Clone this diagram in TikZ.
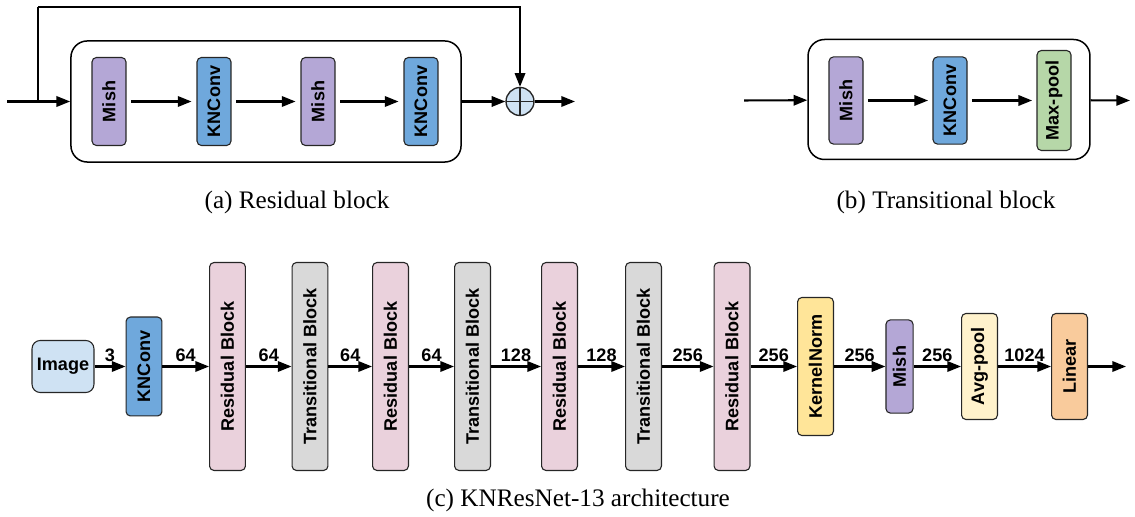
\documentclass[tikz,border=0pt]{standalone}
\usepackage{fontspec}
\setmainfont{Liberation Serif}
\setsansfont{Liberation Sans}
\usepackage{xcolor}
\usetikzlibrary{arrows.meta,positioning}

\definecolor{mishcol}{HTML}{B4A7D6}
\definecolor{convcol}{HTML}{6FA8DC}
\definecolor{poolcol}{HTML}{B6D7A8}
\definecolor{imgcol}{HTML}{CFE2F3}
\definecolor{rescol}{HTML}{EAD1DC}
\definecolor{transcol}{HTML}{D9D9D9}
\definecolor{normcol}{HTML}{FFE599}
\definecolor{avgcol}{HTML}{FFF2CC}
\definecolor{lincol}{HTML}{F9CB9C}

\begin{document}
\begin{tikzpicture}[x=0.365pt, y=-0.365pt,
  blk/.style={draw=black!85, line width=0.4pt, rounded corners=1.6pt, rotate=90, inner sep=0pt,
    font=\sffamily\bfseries\fontsize{6.6}{7}\selectfont, minimum height=13.1pt},
  frame/.style={draw, line width=0.55pt, rounded corners=6pt},
  flow/.style={-{Triangle[length=5pt,width=3.8pt]}, line width=0.75pt},
  dimlbl/.style={above, inner sep=1.5pt, font=\sffamily\bfseries\fontsize{6.6}{7}\selectfont},
  subcap/.style={font=\fontsize{9.2}{11}\selectfont}]
  \useasboundingbox (0,0) rectangle (1135,517);

  % (a) residual block
  \node (frameA) [frame, minimum width=142.4pt, minimum height=44.2pt] at (266,101.5) {};
  \node (mishA) [blk, fill=mishcol, minimum width=32.1pt, minimum height=12.4pt] at (109,101.5) {Mish};
  \node (convA) [blk, fill=convcol, minimum width=32.1pt, minimum height=12.4pt] at (214,101.5) {KNConv};
  \node (mishB) [blk, fill=mishcol, minimum width=32.1pt, minimum height=12.4pt] at (318,101.5) {Mish};
  \node (convB) [blk, fill=convcol, minimum width=32.1pt, minimum height=12.4pt] at (421,101.5) {KNConv};
  \node (sum) [circle, draw=black!85, fill=imgcol, line width=0.5pt, minimum size=10.2pt, inner sep=0pt,
    path picture={\draw[line width=0.5pt] (path picture bounding box.north) -- (path picture bounding box.south)
      (path picture bounding box.west) -- (path picture bounding box.east);}] at (520,101.5) {};
  \coordinate (inA) at (7,101.5);
  \coordinate (split) at (38,101.5);
  \coordinate (corner) at (38,7);
  \coordinate (outA) at (575,101.5);
  \node (capA) [subcap] at (297,202) {(a) Residual block};

  \draw[flow] (inA) -- (frameA);
  \draw[line width=0.75pt] (split) -- (corner);
  \draw[flow] (corner) -| (sum);
  \draw[flow, shorten <=1.8pt, shorten >=1.8pt] (mishA) -- (convA);
  \draw[flow, shorten <=1.8pt, shorten >=1.8pt] (convA) -- (mishB);
  \draw[flow, shorten <=1.8pt, shorten >=1.8pt] (mishB) -- (convB);
  \draw[flow] (frameA) -- (sum);
  \draw[flow] (sum) -- (outA);

  % (b) transitional block
  \node (frameB) [frame, minimum width=102.9pt, minimum height=43.8pt] at (949,99.5) {};
  \node (mishT) [blk, fill=mishcol, minimum width=31.8pt, minimum height=12.4pt] at (846,100.5) {Mish};
  \node (convT) [blk, fill=convcol, minimum width=31.8pt, minimum height=12.4pt] at (950,100.5) {KNConv};
  \node (poolT) [blk, fill=poolcol, minimum width=36.5pt, minimum height=12.4pt] at (1054,100.5) {Max-pool};
  \coordinate (inB) at (744,100.5);
  \coordinate (outB) at (1130,100.5);
  \node (capB) [subcap] at (946,202) {(b) Transitional block};

  \draw[flow] (inB) -- (frameB);
  \draw[flow, shorten <=1.6pt, shorten >=1.6pt] (mishT) -- (convT);
  \draw[flow, shorten <=1.6pt, shorten >=1.6pt] (convT) -- (poolT);
  \draw[flow] (frameB) -- (outB);

  % (c) KNResNet-13
  \node (img) [draw=black!85, line width=0.4pt, rounded corners=3pt, fill=imgcol, inner sep=0pt,
    font=\sffamily\bfseries\fontsize{6.6}{7}\selectfont, minimum width=22.6pt, minimum height=19pt] at (63,366.5) {Image};
  \node (convC) [blk, fill=convcol, minimum width=36.1pt] at (144,366.5) {KNConv};
  \node (res1) [blk, fill=rescol, minimum width=75.9pt] at (227.5,366.5) {Residual Block};
  \node (tr1) [blk, fill=transcol, minimum width=75.9pt] at (310,366.5) {Transitional Block};
  \node (res2) [blk, fill=rescol, minimum width=75.9pt] at (390.5,366.5) {Residual Block};
  \node (tr2) [blk, fill=transcol, minimum width=75.9pt] at (472.5,366.5) {Transitional Block};
  \node (res3) [blk, fill=rescol, minimum width=75.9pt] at (559.5,366.5) {Residual Block};
  \node (tr3) [blk, fill=transcol, minimum width=75.9pt] at (643.5,366.5) {Transitional Block};
  \node (res4) [blk, fill=rescol, minimum width=75.9pt] at (732,366.5) {Residual Block};
  \node (knorm) [blk, fill=normcol, minimum width=50.4pt] at (815.5,366.5) {KernelNorm};
  \node (mishC) [blk, fill=mishcol, minimum width=34pt, minimum height=9.9pt] at (899.5,366.5) {Mish};
  \node (avg) [blk, fill=avgcol, minimum width=38.7pt] at (979.5,366.5) {Avg-pool};
  \node (lin) [blk, fill=lincol, minimum width=38.7pt] at (1069.5,366.5) {Linear};
  \coordinate (outC) at (1126,366.5);
  \node (capC) [subcap] at (578,500) {(c) KNResNet-13 architecture};

  % arrows with channel counts
  \draw[flow] (img) -- node[dimlbl] {3} (convC);
  \draw[flow] (convC) -- node[dimlbl] {64} (res1);
  \draw[flow] (res1) -- node[dimlbl] {64} (tr1);
  \draw[flow] (tr1) -- node[dimlbl] {64} (res2);
  \draw[flow] (res2) -- node[dimlbl] {64} (tr2);
  \draw[flow] (tr2) -- node[dimlbl] {128} (res3);
  \draw[flow] (res3) -- node[dimlbl] {128} (tr3);
  \draw[flow] (tr3) -- node[dimlbl] {256} (res4);
  \draw[flow] (res4) -- node[dimlbl] {256} (knorm);
  \draw[flow] (knorm) -- node[dimlbl] {256} (mishC);
  \draw[flow] (mishC) -- node[dimlbl] {256} (avg);
  \draw[flow] (avg) -- node[dimlbl] {1024} (lin);
  \draw[flow] (lin) -- (outC);
\end{tikzpicture}
\end{document}
